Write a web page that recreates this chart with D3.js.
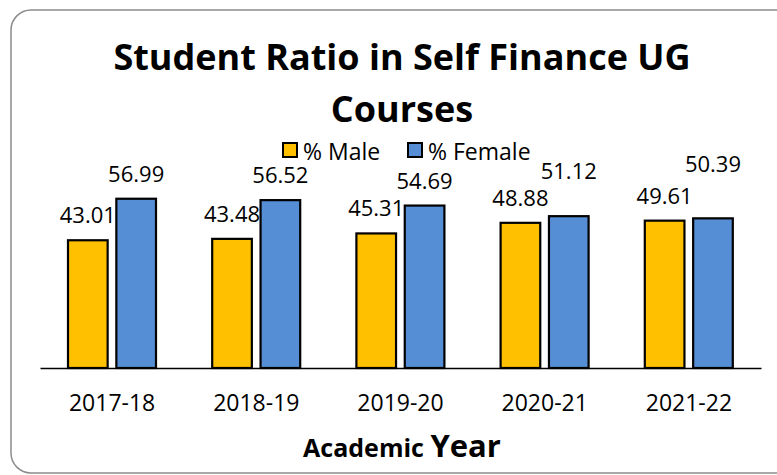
<!DOCTYPE html>
<html>
<head>
<meta charset="utf-8">
<script src="https://cdn.jsdelivr.net/npm/d3@7"></script>
<style>
  body { margin: 0; background: #fff; }
  text { font-family: "Open Sans", sans-serif; fill: #000; }
</style>
</head>
<body>
<script>
// chart values
const years = ["2017-18", "2018-19", "2019-20", "2020-21", "2021-22"];
const malePct = [43.01, 43.48, 45.31, 48.88, 49.61];
const femalePct = [56.99, 56.52, 54.69, 51.12, 50.39];
const seriesNames = ["% Male", "% Female"];

// colours
const maleColor = "#FFC000";
const femaleColor = "#558ED5";

// extra lift for the labels that sit higher than the rest in the original
const labelLift = { "% Male": [0, 0, 0, 0, 0], "% Female": [0, 0, 0, 20, 29] };

const width = 777, height = 475;
const baseY = 368;

var svg = d3.select("body").append("svg")
    .attr("width", width)
    .attr("height", height);

// chart frame (right edge runs off the picture)
svg.append("rect")
    .attr("x", 11).attr("y", 10)
    .attr("width", 800).attr("height", 463)
    .attr("rx", 20).attr("ry", 20)
    .attr("fill", "#fff")
    .attr("stroke", "#8c8c8c")
    .attr("stroke-width", 1.5);

// title
svg.append("text")
    .attr("x", 402).attr("y", 70)
    .attr("text-anchor", "middle")
    .style("font-size", "36px").style("font-weight", "bold")
    .text("Student Ratio in Self Finance UG");
svg.append("text")
    .attr("x", 402).attr("y", 122)
    .attr("text-anchor", "middle")
    .style("font-size", "36px").style("font-weight", "bold")
    .text("Courses");

var x = d3.scaleBand().domain(years).range([40, 761]).padding(0);
var xInner = d3.scaleBand().domain(seriesNames).range([28, 116]).paddingInner(0.18);
var y = d3.scaleLinear().domain([0, 60]).range([baseY, baseY - 2.97 * 60]);
var color = d3.scaleOrdinal().domain(seriesNames).range([maleColor, femaleColor]);

var rows = years.map((yr, i) => ({
    year: yr,
    values: [
        { key: "% Male", value: malePct[i], i: i },
        { key: "% Female", value: femalePct[i], i: i }
    ]
}));

var groups = svg.append("g").selectAll("g")
    .data(rows)
    .enter().append("g")
    .attr("transform", d => "translate(" + x(d.year) + ",0)");

groups.selectAll("rect")
    .data(d => d.values)
    .enter().append("rect")
    .attr("x", d => xInner(d.key))
    .attr("width", xInner.bandwidth())
    .attr("y", d => y(d.value))
    .attr("height", d => baseY - y(d.value))
    .attr("fill", d => color(d.key))
    .attr("stroke", "#000")
    .attr("stroke-width", 2.2);

groups.selectAll("text.lbl")
    .data(d => d.values)
    .enter().append("text")
    .attr("class", "lbl")
    .attr("x", d => xInner(d.key) + xInner.bandwidth() / 2)
    .attr("y", d => y(d.value) - 17 - labelLift[d.key][d.i])
    .attr("text-anchor", "middle")
    .style("font-size", "22px")
    .text(d => d.value.toFixed(2));

// x axis
var xAxis = svg.append("g")
    .attr("transform", "translate(0," + baseY + ")")
    .call(d3.axisBottom(x).tickSize(0).tickPadding(27));
xAxis.select(".domain").attr("stroke", "#000").attr("stroke-width", 1.5);
xAxis.selectAll(".tick text")
    .style("font-size", "23px")
    .attr("font-family", null)
    .attr("dy", "0.71em");

// axis title
var at = svg.append("text")
    .attr("x", 402).attr("y", 457)
    .attr("text-anchor", "middle")
    .style("font-weight", "bold");
at.append("tspan").style("font-size", "25px").text("Academic ");
at.append("tspan").style("font-size", "31px").text("Year");

// legend
var legend = svg.append("g").selectAll("g")
    .data(seriesNames)
    .enter().append("g")
    .attr("transform", (d, i) => "translate(" + [283, 408][i] + ",143)");
legend.append("rect")
    .attr("width", 14).attr("height", 14)
    .attr("fill", d => color(d))
    .attr("stroke", "#000").attr("stroke-width", 2);
legend.append("text")
    .attr("x", 20).attr("y", 17)
    .style("font-size", "23px")
    .text(d => d);
</script>
</body>
</html>
